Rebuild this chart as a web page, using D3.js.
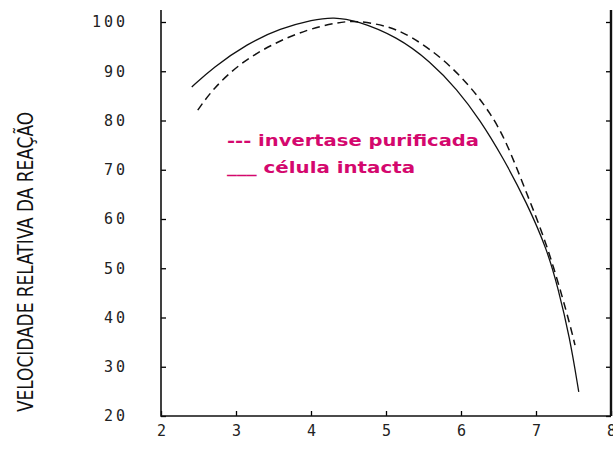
<!DOCTYPE html>
<html>
<head>
<meta charset="utf-8">
<script src="https://cdn.jsdelivr.net/npm/d3@7"></script>
<style>
    body { margin: 0; background: #fff; }
    svg { display: block; }
</style>
</head>
<body>
<div id="chart_parent"></div>
<script>
// pH values and relative reaction velocity
const intactX = [2.41, 2.69, 3.15, 3.59, 4.03, 4.3, 4.61, 5.15, 5.59, 5.95, 6.25, 6.56, 6.88, 7.15, 7.29, 7.45, 7.57];
const intactY = [86.8, 90.7, 95.6, 98.7, 100.5, 101.0, 100.3, 97.0, 92.0, 86.3, 80.2, 72.5, 63.2, 53.7, 46.2, 36.0, 24.9];

const purifiedX = [2.49, 2.69, 3.05, 3.49, 3.95, 4.35, 4.6, 5.0, 5.32, 5.76, 6.12, 6.39, 6.61, 6.88, 7.15, 7.43, 7.52];
const purifiedY = [82.1, 86.4, 91.6, 95.6, 98.5, 99.9, 100.3, 99.3, 97.3, 92.6, 87.0, 81.6, 75.6, 65.0, 54.8, 40.0, 34.4];

const xTicks = [2, 3, 4, 5, 6, 7, 8];
const yTicks = [20, 30, 40, 50, 60, 70, 80, 90, 100];

const yLabel = 'VELOCIDADE RELATIVA DA REAÇÃO';
const legendLines = ['--- invertase purificada', '___ célula intacta'];

const config = {
    outerWidth: 613,
    outerHeight: 450,
    left: 161,
    right: 611,
    top: 22,
    bottom: 416,
};

const svg = d3.select('#chart_parent').append('svg')
    .attr('width', config.outerWidth)
    .attr('height', config.outerHeight);

const x = d3.scaleLinear().domain([2, 8]).range([config.left, config.right]);
const y = d3.scaleLinear().domain([20, 100]).range([config.bottom, config.top]);

const tickFont = '"DejaVu Sans Mono", monospace';

// left axis, ticks pointing inwards
const yAxisGroup = svg.append('g')
    .attr('transform', `translate(${config.left},0)`)
    .call(d3.axisLeft(y).tickValues(yTicks).tickSize(-5).tickPadding(33).tickFormat(d3.format('d')));
yAxisGroup.select('.domain').remove();
yAxisGroup.selectAll('line').attr('stroke-width', 1.3);
yAxisGroup.selectAll('text')
    .style('font-family', tickFont)
    .style('font-size', '15px')
    .style('letter-spacing', '3px')
    .attr('fill', '#222');

// bottom axis
const xAxisGroup = svg.append('g')
    .attr('transform', `translate(0,${config.bottom})`)
    .call(d3.axisBottom(x).tickValues(xTicks).tickSize(-5).tickPadding(9).tickFormat(d3.format('d')));
xAxisGroup.select('.domain').remove();
xAxisGroup.selectAll('line').attr('stroke-width', 1.3);
xAxisGroup.selectAll('text')
    .style('font-family', tickFont)
    .style('font-size', '15px')
    .attr('fill', '#222');

// right axis, no labels
const rightAxisGroup = svg.append('g')
    .attr('transform', `translate(${config.right},0)`)
    .call(d3.axisRight(y).tickValues(yTicks).tickSize(-5).tickFormat(''));
rightAxisGroup.select('.domain').remove();
rightAxisGroup.selectAll('line').attr('stroke-width', 1.3);

// frame lines (left, bottom, right)
const topY = config.top - 12;
svg.append('path')
    .attr('d', `M${config.left},${topY}V${config.bottom}H${config.right}`)
    .attr('fill', 'none')
    .attr('stroke', '#111')
    .attr('stroke-width', 1.6);
svg.append('line')
    .attr('x1', config.right).attr('x2', config.right)
    .attr('y1', topY).attr('y2', config.bottom)
    .attr('stroke', '#111')
    .attr('stroke-width', 2.4);

// curves
const line = d3.line()
    .curve(d3.curveBasis)
    .x(d => x(d[0]))
    .y(d => y(d[1]));

svg.append('path')
    .datum(d3.zip(purifiedX, purifiedY))
    .attr('d', line)
    .attr('fill', 'none')
    .attr('stroke', '#111')
    .attr('stroke-width', 1.5)
    .attr('stroke-dasharray', '8,5');

svg.append('path')
    .datum(d3.zip(intactX, intactY))
    .attr('d', line)
    .attr('fill', 'none')
    .attr('stroke', '#111')
    .attr('stroke-width', 1.3);

// y axis title
svg.append('text')
    .attr('transform', 'translate(33,262) rotate(-90)')
    .attr('text-anchor', 'middle')
    .attr('textLength', 300)
    .attr('lengthAdjust', 'spacingAndGlyphs')
    .style('font-family', '"DejaVu Sans", sans-serif')
    .style('font-stretch', 'condensed')
    .style('font-size', '21px')
    .attr('fill', '#111')
    .text(yLabel);

// legend
const legendWidths = [252, 188];
svg.selectAll('.legend')
    .data(legendLines)
    .enter()
    .append('text')
    .attr('class', 'legend')
    .attr('x', 227)
    .attr('y', (d, i) => 146 + i * 27)
    .attr('textLength', (d, i) => legendWidths[i])
    .attr('lengthAdjust', 'spacingAndGlyphs')
    .style('font-family', '"DejaVu Sans", sans-serif')
    .style('font-weight', 'bold')
    .style('font-size', '16px')
    .attr('fill', '#d4086e')
    .text(d => d);
</script>
</body>
</html>
